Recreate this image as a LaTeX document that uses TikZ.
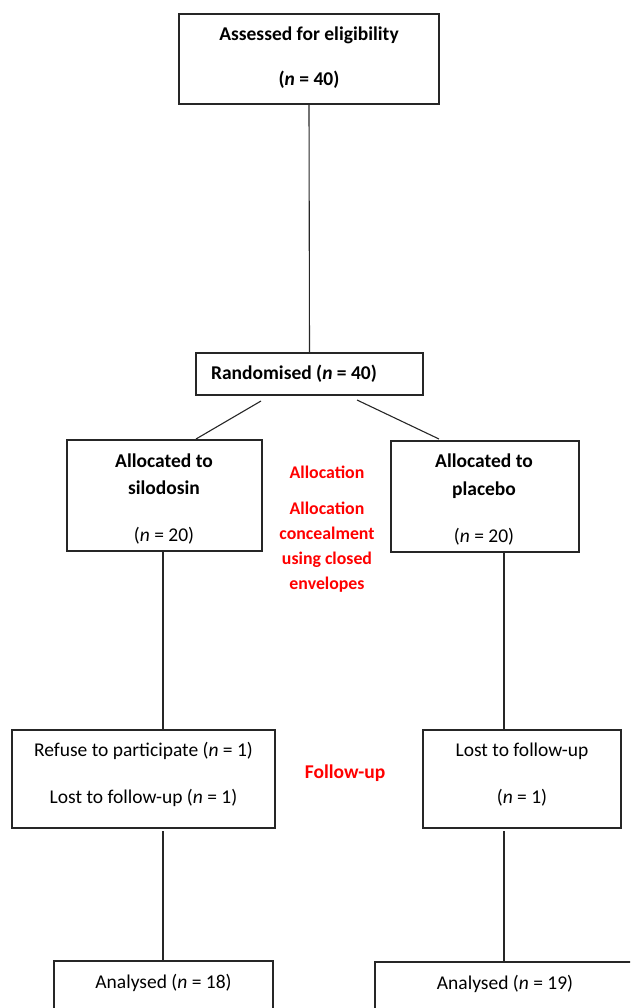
\documentclass[tikz,border=0pt]{standalone}
\usepackage{fontspec}
\setmainfont{Carlito}
\begin{document}
\begin{tikzpicture}[x=1pt,y=-1pt,
  box/.style={draw=black!85, line width=1.1pt, inner sep=0pt, outer sep=0pt},
  conn/.style={draw=black!85, line width=1.1pt},
  txt/.style={anchor=base, inner sep=0pt, font=\fontsize{19.5}{23}\selectfont},
  btxt/.style={anchor=base, inner sep=0pt, font=\fontsize{19.5}{23}\selectfont\bfseries},
  redtxt/.style={anchor=base, inner sep=0pt, text=red, font=\fontsize{17.8}{22}\selectfont\bfseries},
  redbig/.style={anchor=base, inner sep=0pt, text=red, font=\fontsize{19.5}{23}\selectfont\bfseries}]
\useasboundingbox (0,0) rectangle (630,1008);
\clip (0,0) rectangle (630,1008);
% boxes
\node[box, minimum width=260pt, minimum height=90pt] (assess) at (309,59) {};
\node[box, minimum width=227pt, minimum height=42pt] (rand) at (309.5,374) {};
\node[box, minimum width=195pt, minimum height=111pt] (sil) at (164.5,495.5) {};
\node[box, minimum width=188pt, minimum height=111pt] (pla) at (485,496.5) {};
\node[box, minimum width=263pt, minimum height=98pt] (fu1) at (143.5,779) {};
\node[box, minimum width=198pt, minimum height=98pt] (fu2) at (522,779) {};
\node[box, minimum width=219pt, minimum height=58pt] (an1) at (163.5,990) {};
\node[box, minimum width=265pt, minimum height=57pt] (an2) at (507.5,990.5) {};
% texts
\node[btxt] (t1) at (309,41) {Assessed for eligibility};
\node[btxt] (t2) at (309,86) {(\textit{n} = 40)};
\node[btxt] (t3) at (294,379) {Randomised (\textit{n} = 40)};
\node[btxt] (t4) at (164,467) {Allocated to};
\node[btxt] (t5) at (164,494) {silodosin};
\node[txt] (t6) at (164,541) {(\textit{n} = 20)};
\node[btxt] (t7) at (484,467) {Allocated to};
\node[btxt] (t8) at (484,495) {placebo};
\node[txt] (t9) at (484,542) {(\textit{n} = 20)};
\node[redtxt] (r1) at (327,478) {Allocation};
\node[redtxt] (r2) at (327,514) {Allocation};
\node[redtxt] (r3) at (327,539) {concealment};
\node[redtxt] (r4) at (327,564) {using closed};
\node[redtxt] (r5) at (327,589) {envelopes};
\node[txt] (t10) at (143.5,756) {Refuse to participate (\textit{n} = 1)};
\node[txt] (t11) at (143.5,803) {Lost to follow-up (\textit{n} = 1)};
\node[redbig] (r6) at (345,778) {Follow-up};
\node[txt] (t12) at (522,756) {Lost to follow-up};
\node[txt] (t13) at (522,803) {(\textit{n} = 1)};
\node[txt] (t14) at (163.5,988) {Analysed (\textit{n} = 18)};
\node[txt] (t15) at (505,989) {Analysed (\textit{n} = 19)};
% connector coordinates
\coordinate (lx) at (163,0);
\coordinate (rx) at (504,0);
\coordinate (d1a) at (261,401);
\coordinate (d1b) at (196,439);
\coordinate (d2a) at (357,400);
\coordinate (d2b) at (439,439);
\coordinate (g1) at (0,831);
% connectors
\draw[conn] (assess.south) -- (rand.north);
\draw[conn] (d1a) -- (d1b);
\draw[conn] (d2a) -- (d2b);
\draw[conn] (sil.south -| lx) -- (fu1.north -| lx);
\draw[conn] (g1 -| lx) -- (an1.north -| lx);
\draw[conn] (pla.south -| rx) -- (fu2.north -| rx);
\draw[conn] (g1 -| rx) -- (an2.north -| rx);
\end{tikzpicture}
\end{document}
